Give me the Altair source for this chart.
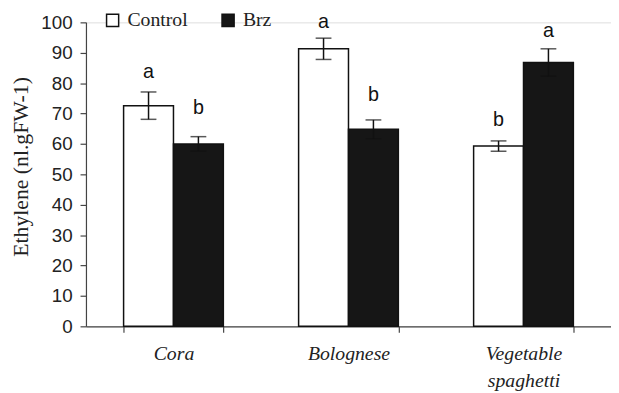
import altair as alt
import pandas as pd

varieties = ["Cora", "Bolognese", "Vegetable spaghetti"]
treatments = ["Control", "Brz"]
control_means = [72.6, 91.3, 59.3]
control_errs = [4.5, 3.5, 1.7]
brz_means = [60.0, 64.8, 86.8]
brz_errs = [2.4, 3.1, 4.5]
control_letters = ["a", "a", "b"]
brz_letters = ["b", "b", "a"]
control_letter_y = [81.8, 98.0, 65.9]
brz_letter_y = [69.8, 74.0, 95.1]
y_ticks = [0, 10, 20, 30, 40, 50, 60, 70, 80, 90, 100]

rows = []
for i, v in enumerate(varieties):
    rows.append(dict(variety=v, treatment="Control", mean=control_means[i], err=control_errs[i],
                     letter=control_letters[i], ly=control_letter_y[i]))
    rows.append(dict(variety=v, treatment="Brz", mean=brz_means[i], err=brz_errs[i],
                     letter=brz_letters[i], ly=brz_letter_y[i]))
df = pd.DataFrame(rows)

serif = "Times New Roman, Liberation Serif, serif"

x_scale = alt.Scale(paddingInner=0.43, paddingOuter=0.215)
x_axis = alt.Axis(tickBand="extent", labelAngle=0, labelFont=serif,
                  labelFontStyle="italic", labelFontSize=20, labelColor="#222",
                  labelExpr="split(datum.label, ' ')", labelLineHeight=27,
                  tickSize=6, labelPadding=12, domainColor="#444", tickColor="#444",
                  domainWidth=1.2, tickWidth=1.2)
x_enc = alt.X("variety:N", sort=varieties, title=None, scale=x_scale, axis=x_axis)
xo_enc = alt.XOffset("treatment:N", sort=treatments, scale=alt.Scale(paddingInner=0, paddingOuter=0))

y_scale = alt.Scale(domain=[0, 100], nice=False)
y_axis = alt.Axis(values=y_ticks, grid=False, tickSize=6, labelPadding=8,
                  labelFont="Liberation Sans", labelFontSize=19, labelColor="#222",
                  titleFont=serif, titleFontSize=22, titleFontWeight="normal",
                  titleColor="#222", titlePadding=9, titleY=146, domainColor="#444", tickColor="#444",
                  domainWidth=1.2, tickWidth=1.2)
y_title = "Ethylene (nl.gFW-1)"

bars = alt.Chart(df).mark_bar(stroke="#111", strokeWidth=1.5).encode(
    x=x_enc,
    xOffset=xo_enc,
    y=alt.Y("mean:Q", scale=y_scale, title=y_title, axis=y_axis),
    fill=alt.Fill("treatment:N", sort=treatments,
                  scale=alt.Scale(domain=treatments, range=["white", "#161616"]),
                  legend=alt.Legend(title=None, orient="none", legendX=17, legendY=-12,
                                    direction="horizontal", symbolType="square", symbolSize=150,
                                    symbolStrokeColor="#111", symbolStrokeWidth=1.5,
                                    labelFont=serif, labelFontSize=20,
                                    labelColor="#222", labelOffset=5, columnPadding=30)),
)

calc = alt.Chart(df).encode(x=x_enc, xOffset=xo_enc).transform_calculate(
    lo="datum.mean - datum.err", hi="datum.mean + datum.err")

rule = calc.mark_rule(color="#111", strokeWidth=1.5).encode(
    y=alt.Y("lo:Q", scale=y_scale, title=y_title, axis=y_axis), y2="hi:Q")
cap_hi = calc.mark_tick(color="#111", size=16, thickness=1.5).encode(
    y=alt.Y("hi:Q", scale=y_scale, title=y_title, axis=y_axis))
cap_lo = calc.mark_tick(color="#111", size=16, thickness=1.5).encode(
    y=alt.Y("lo:Q", scale=y_scale, title=y_title, axis=y_axis))

letters = calc.mark_text(font="Liberation Sans", fontSize=20, color="#111", baseline="alphabetic").encode(
    y=alt.Y("ly:Q", scale=y_scale, title=y_title, axis=y_axis), text="letter:N")

chart = alt.layer(bars, rule, cap_hi, cap_lo, letters).properties(
    width=532, height=308,
    autosize=alt.AutoSizeParams(type="none"),
    padding={"left": 79, "top": 12, "right": 0, "bottom": 65},
).configure_view(strokeWidth=0).configure_axisX(
    labelFont=serif, labelFontStyle="italic"
).configure(background="white")

chart.save("out.html", embed_options={"renderer": "svg", "actions": False})
